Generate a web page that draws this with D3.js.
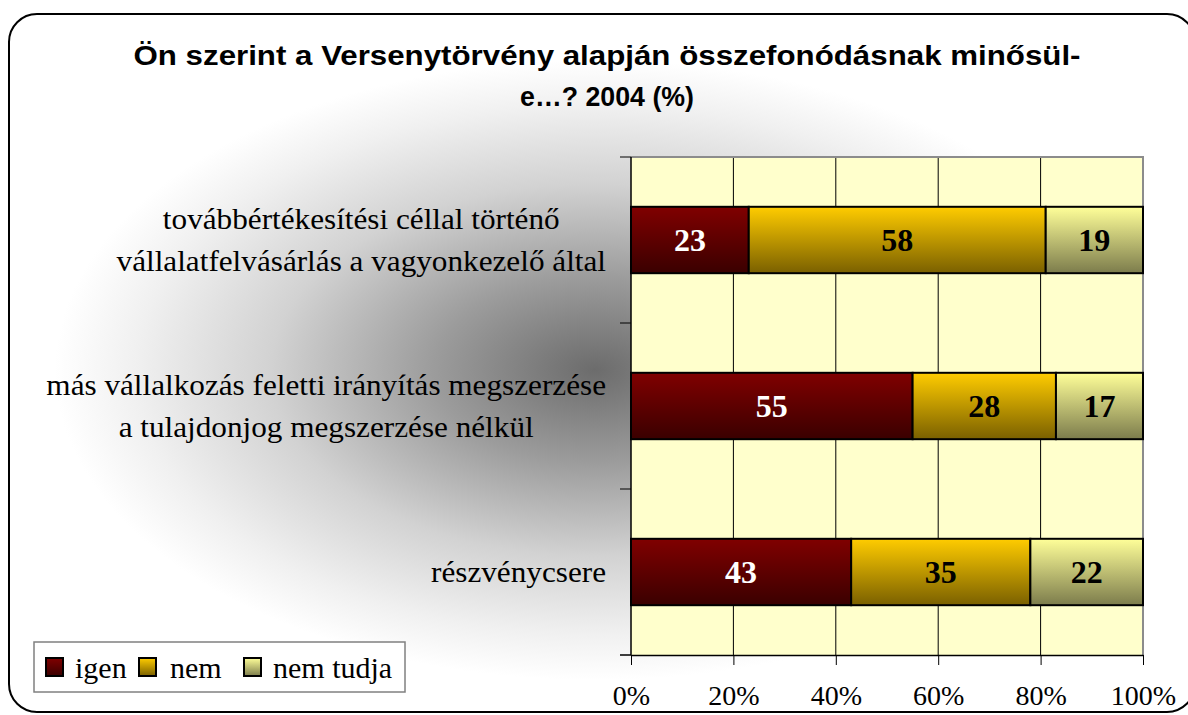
<!DOCTYPE html>
<html><head><meta charset="utf-8">
<script src="https://cdn.jsdelivr.net/npm/d3@7"></script>
<style>html,body{margin:0;padding:0;background:#fff;}svg{display:block;}</style>
</head><body>
<svg id="chart" width="1188" height="715"></svg>
<script>
const titleLines = ["Ön szerint a Versenytörvény alapján összefonódásnak minősül-", "e…? 2004 (%)"];
const categories = [
  ["továbbértékesítési céllal történő", "vállalatfelvásárlás a vagyonkezelő által"],
  ["más vállalkozás feletti irányítás megszerzése", "a tulajdonjog megszerzése nélkül"],
  ["részvénycsere"]
];
const seriesNames = ["igen", "nem", "nem tudja"];
const igen = [23, 55, 43];
const nem = [58, 28, 35];
const nemTudja = [19, 17, 22];
const xTicks = [0, 20, 40, 60, 80, 100];

const serif = "'Liberation Serif', 'Times New Roman', serif";
const svg = d3.select("#chart");
const defs = svg.append("defs");

const bg = defs.append("radialGradient").attr("id","bg").attr("gradientUnits","userSpaceOnUse")
  .attr("cx",0).attr("cy",0).attr("r",1).attr("gradientTransform","translate(595,370) scale(540,310)");
[[0,"#6c6c6c"],[0.3,"#9c9c9c"],[0.6,"#d2d2d2"],[0.85,"#f0f0f0"],[1,"#ffffff"]].forEach(s=>bg.append("stop").attr("offset",s[0]).attr("stop-color",s[1]));

const grads = [["#800000","#3a0000"],["#ffcc00","#7a6000"],["#ffff99","#7c7c4c"]];
grads.forEach((g,i)=>{
  const lg = defs.append("linearGradient").attr("id","g"+i).attr("x1",0).attr("y1",0).attr("x2",0).attr("y2",1);
  lg.append("stop").attr("offset",0).attr("stop-color",g[0]);
  lg.append("stop").attr("offset",1).attr("stop-color",g[1]);
});

svg.append("rect").attr("width",1188).attr("height",715).attr("fill","#fff");
svg.append("rect").attr("x",9).attr("y",14).attr("width",1186).attr("height",698).attr("rx",28).attr("ry",28)
  .attr("fill","url(#bg)").attr("stroke","#000").attr("stroke-width",2);

// title
const titleWidths = [947, 174];
svg.append("g").selectAll("text").data(titleLines).join("text")
  .attr("x",607).attr("y",(d,i)=>65+i*41).attr("text-anchor","middle")
  .attr("font-family","'Liberation Sans', Arial, sans-serif").attr("font-weight","bold").attr("font-size",27)
  .attr("textLength",(d,i)=>titleWidths[i]).attr("lengthAdjust","spacingAndGlyphs")
  .attr("fill","#000").text(d=>d);

const x = d3.scaleLinear().domain([0,100]).range([631,1143]);
const y = d3.scaleBand().domain(d3.range(categories.length)).range([157,655]).paddingInner(0.6).paddingOuter(0.3);

// plot area
const [x0,x1] = x.range(), [y0,y1] = y.range();
svg.append("rect").attr("x",x0).attr("y",y0).attr("width",x1-x0).attr("height",y1-y0).attr("fill","#ffffcc");
svg.append("g").selectAll("line").data(xTicks.slice(1,-1)).join("line")
  .attr("x1",d=>x(d)).attr("x2",d=>x(d)).attr("y1",y0).attr("y2",y1).attr("stroke","#000").attr("stroke-width",1);
svg.append("path").attr("d",`M${x0},${y0}H${x1}V${y1}`).attr("fill","none").attr("stroke","#8c8c8c").attr("stroke-width",2);

// bars
const series = [igen, nem, nemTudja];
const stacked = categories.map((c,i)=>{
  let acc = 0;
  return series.map((s,k)=>{const o={k,i,x0:acc,x1:acc+s[i],v:s[i]}; acc+=s[i]; return o;});
}).flat();
const bars = svg.append("g");
bars.selectAll("rect").data(stacked).join("rect")
  .attr("x",d=>x(d.x0)).attr("width",d=>x(d.x1)-x(d.x0))
  .attr("y",d=>y(d.i)).attr("height",y.bandwidth())
  .attr("fill",d=>"url(#g"+d.k+")").attr("stroke","#000").attr("stroke-width",2);
bars.selectAll("text").data(stacked).join("text")
  .attr("x",d=>(x(d.x0)+x(d.x1))/2).attr("y",d=>y(d.i)+y.bandwidth()/2+11)
  .attr("text-anchor","middle").attr("font-family",serif)
  .attr("font-weight","bold").attr("font-size",32).attr("fill",d=>d.k===0?"#fff":"#000").text(d=>d.v);

// y axis
svg.append("line").attr("x1",x0).attr("x2",x0).attr("y1",y0).attr("y2",y1).attr("stroke","#000").attr("stroke-width",1.5);
const yTickPos = d3.range(categories.length+1).map(i=>y0+i*y.step());
svg.append("g").selectAll("line").data(yTickPos).join("line")
  .attr("x1",x0-11).attr("x2",x0).attr("y1",d=>d).attr("y2",d=>d).attr("stroke","#000").attr("stroke-width",1);

// x axis
const xAxis = svg.append("g").attr("transform",`translate(0,${y1})`)
  .call(d3.axisBottom(x).tickValues(xTicks).tickSize(10).tickSizeOuter(0).tickPadding(30).tickFormat(d=>d+"%"));
xAxis.select(".domain").attr("stroke","#000").attr("stroke-width",1.5);
xAxis.selectAll(".tick line").attr("stroke","#000");
xAxis.selectAll("text").attr("font-family",serif).attr("font-size",28).attr("fill","#000").attr("dy","0").attr("y",50);
svg.append("line").attr("x1",x0-11).attr("x2",x0).attr("y1",y1).attr("y2",y1).attr("stroke","#000");

// category labels
const labelStretch = 1.04;
const lab = svg.append("g").attr("font-family",serif).attr("font-size",30).attr("fill","#000");
categories.forEach((lines,i)=>{
  const cy = y(i)+y.bandwidth()/2;
  const g = lab.append("g");
  const ts = g.selectAll("text").data(lines).join("text").attr("text-anchor","middle")
    .attr("y",(d,j)=> lines.length===1 ? cy+10 : cy-11+j*42).text(d=>d);
  let w = 0;
  ts.each(function(){
    const L = this.getComputedTextLength()*labelStretch;
    d3.select(this).attr("textLength",L).attr("lengthAdjust","spacingAndGlyphs");
    w = Math.max(w,L);
  });
  ts.attr("x",606-w/2);
});

// legend
const leg = svg.append("g");
leg.append("rect").attr("x",34).attr("y",642).attr("width",371).attr("height",50).attr("fill","#fff").attr("stroke","#808080").attr("stroke-width",1.5);
const legX = [[46,75],[139,170],[244,273]];
seriesNames.forEach((n,k)=>{
  leg.append("rect").attr("x",legX[k][0]).attr("y",658).attr("width",17).attr("height",18)
    .attr("fill","url(#g"+k+")").attr("stroke","#000").attr("stroke-width",2);
  leg.append("text").attr("x",legX[k][1]).attr("y",678).attr("font-family",serif)
    .attr("font-size",30).attr("fill","#000").text(n);
});
</script>
</body></html>
